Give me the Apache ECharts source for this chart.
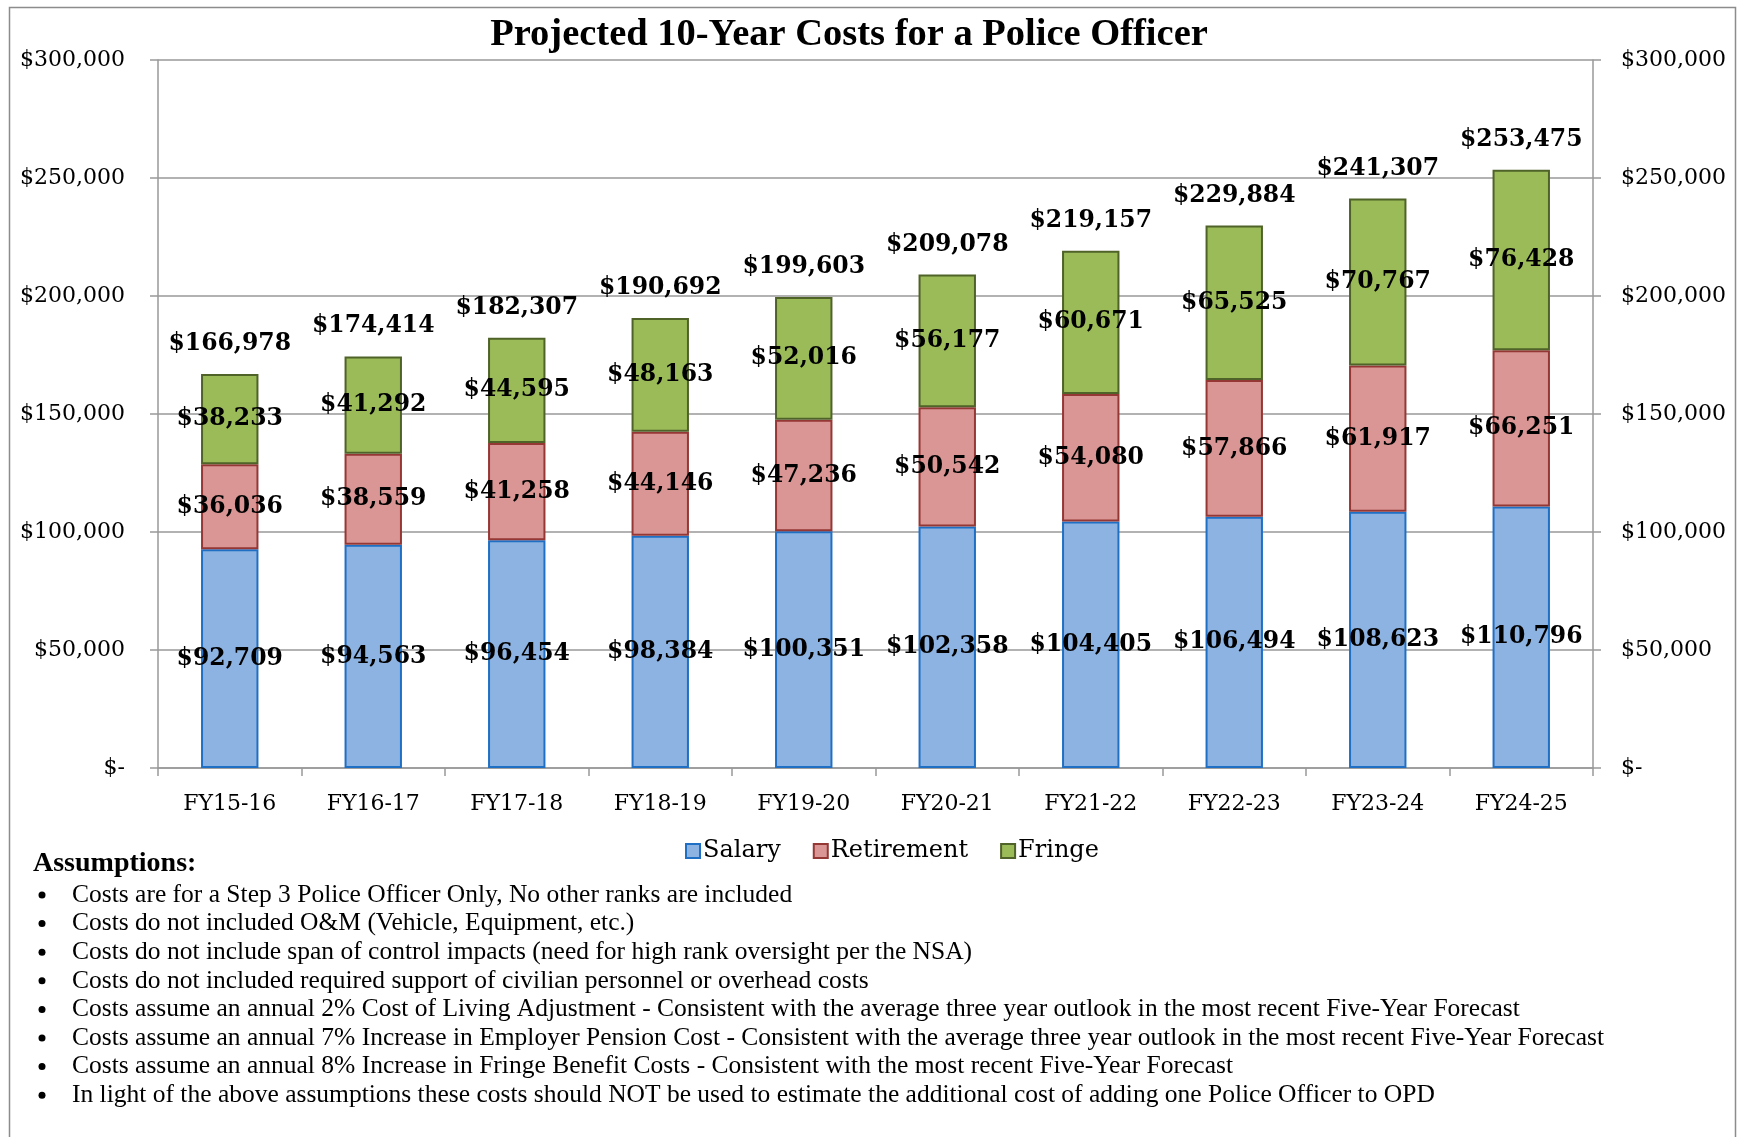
<!DOCTYPE html>
<html>
<head>
<meta charset="utf-8">
<script src="https://cdn.jsdelivr.net/npm/echarts@6/dist/echarts.min.js"></script>
<style>
  html, body { margin: 0; padding: 0; background: #fff; }
  #container { width: 1741px; height: 1137px; }
</style>
</head>
<body>
<div id="container"></div>
<script>
var years = ['FY15-16', 'FY16-17', 'FY17-18', 'FY18-19', 'FY19-20', 'FY20-21', 'FY21-22', 'FY22-23', 'FY23-24', 'FY24-25'];
var salary = [92709, 94563, 96454, 98384, 100351, 102358, 104405, 106494, 108623, 110796];
var retirement = [36036, 38559, 41258, 44146, 47236, 50542, 54080, 57866, 61917, 66251];
var fringe = [38233, 41292, 44595, 48163, 52016, 56177, 60671, 65525, 70767, 76428];
var totals = [166978, 174414, 182307, 190692, 199603, 209078, 219157, 229884, 241307, 253475];
var assumptions = [
    'Costs are for a Step 3 Police Officer Only, No other ranks are included',
    'Costs do not included O&M (Vehicle, Equipment, etc.)',
    'Costs do not include span of control impacts (need for high rank oversight per the NSA)',
    'Costs do not included required support of civilian personnel or overhead costs',
    'Costs assume an annual 2% Cost of Living Adjustment - Consistent with the average three year outlook in the most recent Five-Year Forecast',
    'Costs assume an annual 7% Increase in Employer Pension Cost - Consistent with the average three year outlook in the most recent Five-Year Forecast',
    'Costs assume an annual 8% Increase in Fringe Benefit Costs - Consistent with the most recent Five-Year Forecast',
    'In light of the above assumptions these costs should NOT be used to estimate the additional cost of adding one Police Officer to OPD'
];

var serif = "'DejaVu Serif', serif";

function money(v) {
    return v === 0 ? '$-' : '$' + v.toLocaleString('en-US');
}

var dom = document.getElementById('container');
var myChart = echarts.init(dom);

var segLabel = {
    show: true,
    position: 'inside',
    color: '#000',
    fontFamily: serif,
    fontWeight: 'bold',
    fontSize: 23.5,
    formatter: function (p) { return money(p.value); }
};

var notes = [];
notes.push({
    type: 'text', x: 33, y: 864,
    style: { text: 'Assumptions:', font: "bold 28px 'Liberation Serif'", fill: '#000', verticalAlign: 'middle' }
});
assumptions.forEach(function (t, i) {
    var y = 895 + i * 28.6;
    notes.push({ type: 'circle', shape: { cx: 42, cy: y, r: 3.5 }, style: { fill: '#000' } });
    notes.push({
        type: 'text', x: 72, y: y,
        style: { text: t, font: "25.5px 'Liberation Serif'", fill: '#000', verticalAlign: 'middle' }
    });
});
notes.push({
    type: 'text', x: 849, y: 35,
    style: {
        text: 'Projected 10-Year Costs for a Police Officer',
        font: "bold 38.5px 'Liberation Serif'", fill: '#000', align: 'center', verticalAlign: 'middle'
    }
});
notes.push({
    type: 'rect', shape: { x: 9.5, y: 7.5, width: 1726, height: 1140 },
    style: { fill: 'none', stroke: '#8c8c8c', lineWidth: 1.5 }, silent: true
});

option = {
    backgroundColor: '#fff',
    animation: false,
    legend: {
        data: ['Salary', 'Retirement', 'Fringe'],
        left: 680,
        top: 834,
        icon: 'rect',
        itemWidth: 14,
        itemHeight: 14,
        itemGap: 32,
        textStyle: { fontFamily: serif, fontSize: 24, color: '#000', padding: [0, 0, 0, -2] }
    },
    grid: { left: 158, right: 148, top: 60, height: 708 },
    xAxis: {
        type: 'category',
        data: years,
        axisLine: { lineStyle: { color: '#999', width: 1.5 } },
        axisTick: { show: true, length: 8, lineStyle: { color: '#999', width: 1.5 } },
        axisLabel: { margin: 25, fontFamily: serif, fontSize: 22, color: '#000' }
    },
    yAxis: [{
        type: 'value',
        min: 0, max: 300000, interval: 50000,
        axisLine: { show: true, lineStyle: { color: '#999', width: 1.5 } },
        axisTick: { show: true, length: 8, lineStyle: { color: '#999', width: 1.5 } },
        splitLine: { lineStyle: { color: '#999', width: 1.5 } },
        axisLabel: { margin: 33, fontFamily: serif, fontSize: 22, color: '#000', formatter: money }
    }, {
        type: 'value',
        position: 'right',
        min: 0, max: 300000, interval: 50000,
        axisLine: { show: true, lineStyle: { color: '#999', width: 1.5 } },
        axisTick: { show: true, length: 8, lineStyle: { color: '#999', width: 1.5 } },
        splitLine: { show: false },
        axisLabel: { margin: 28, fontFamily: serif, fontSize: 22, color: '#000', formatter: money }
    }],
    series: [{
        name: 'Salary', type: 'bar', stack: 'cost', barWidth: '40%',
        data: salary,
        itemStyle: { color: '#8db3e2', borderColor: '#1f6fc4', borderWidth: 2 },
        label: segLabel
    }, {
        name: 'Retirement', type: 'bar', stack: 'cost',
        data: retirement,
        itemStyle: { color: '#d99694', borderColor: '#953735', borderWidth: 2 },
        label: segLabel
    }, {
        name: 'Fringe', type: 'bar', stack: 'cost',
        data: fringe,
        itemStyle: { color: '#9bbb59', borderColor: '#4f6228', borderWidth: 2 },
        label: segLabel
    }, {
        name: 'Total', type: 'bar', stack: 'cost',
        data: totals.map(function () { return 0; }),
        itemStyle: { color: 'rgba(0,0,0,0)', borderWidth: 0 },
        label: {
            show: true, position: 'top', distance: 18,
            color: '#000', fontFamily: serif, fontWeight: 'bold', fontSize: 23.5,
            formatter: function (p) { return money(totals[p.dataIndex]); }
        }
    }],
    graphic: notes
};

if (option && typeof option === 'object') {
    myChart.setOption(option, true);
}
</script>
</body>
</html>
